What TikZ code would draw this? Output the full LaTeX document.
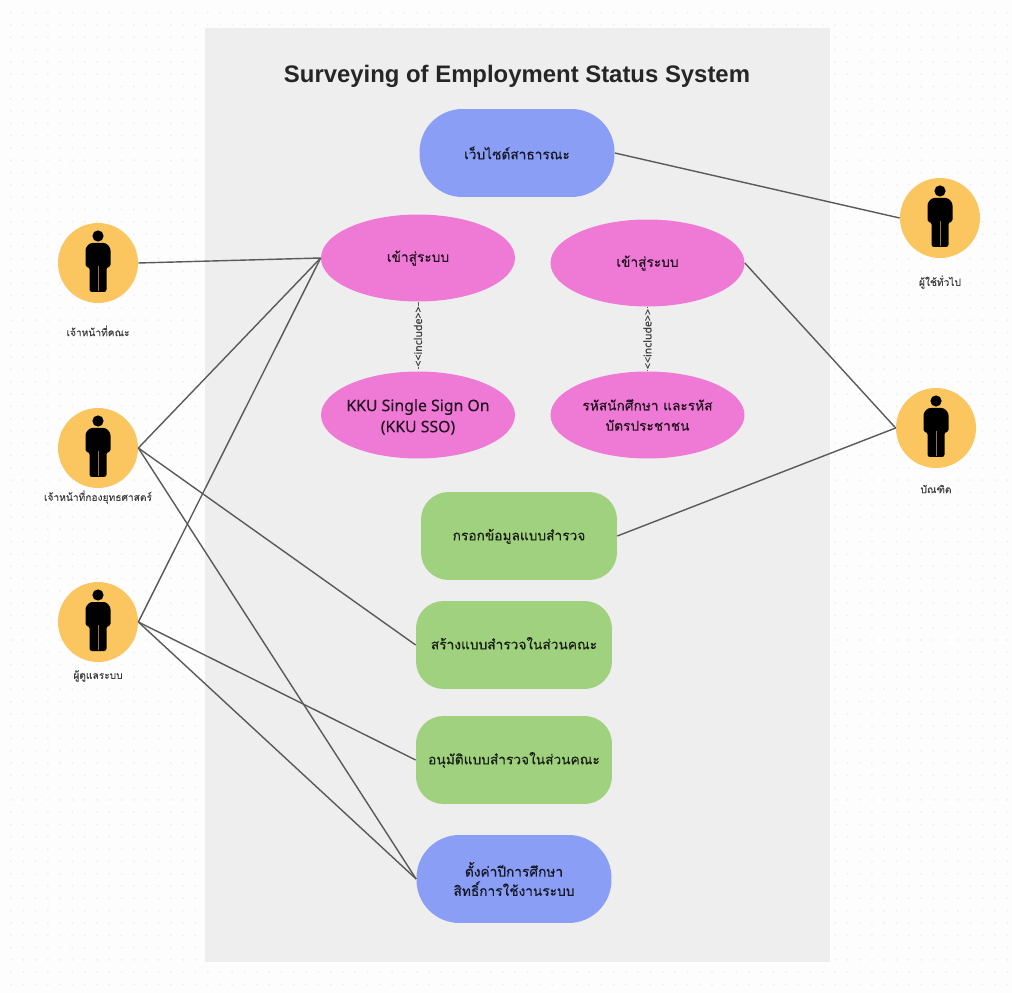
\documentclass[tikz,border=0pt]{standalone}
\usepackage{fontspec}
\newfontfamily\titlefont{Liberation Sans}
\newfontfamily\latinfont[FakeBold=0.3]{Noto Sans}
\newfontfamily\thaifont[Script=Thai,FakeBold=0.3]{Loma}
\usetikzlibrary{shapes.geometric}
\definecolor{canvaswhite}{HTML}{FDFDFD}
\definecolor{panelgray}{HTML}{EEEEEE}
\definecolor{dotgray}{HTML}{F1F1F1}
\definecolor{linegray}{HTML}{5A5A5A}
\definecolor{actoryellow}{HTML}{FBC55F}
\definecolor{usepink}{HTML}{EF7AD6}
\definecolor{useblue}{HTML}{8A9EF5}
\definecolor{usegreen}{HTML}{A0D17E}
\tikzset{
  link/.style={draw=linegray,line width=0.8pt},
  incl/.style={draw=linegray,densely dashed,line width=0.4pt},
  incltext/.style={font=\latinfont\fontsize{6}{6}\selectfont,text=black!75,rotate=90,fill=panelgray,inner sep=0.5pt},
  actor/.style={circle,fill=actoryellow,minimum size=1.6cm,inner sep=0pt},
  actorname/.style={font=\thaifont\fontsize{5.8}{7}\selectfont,text=black!75},
  oval/.style={ellipse,fill=usepink,text=black!85!usepink,minimum width=3.88cm,minimum height=1.74cm,inner sep=-8pt,align=center,font=\thaifont\fontsize{7.8}{11.5}\selectfont},
  pill/.style={rectangle,rounded corners=0.86cm,fill=useblue,text=black!85!useblue,minimum width=3.9cm,minimum height=1.76cm,inner sep=0pt,align=center,font=\thaifont\fontsize{7.8}{11}\selectfont},
  greenbox/.style={rectangle,rounded corners=0.55cm,fill=usegreen,text=black!85!usegreen,minimum width=3.92cm,minimum height=1.76cm,inner sep=0pt,align=center,text height=6.5pt,text depth=1.5pt,font=\thaifont\fontsize{7.8}{11}\selectfont},
  personfig/.pic={
    \fill (0,-27) circle (5.6);
    \fill[rounded corners=0.05cm] (-12.5,4) -- (-12.5,-15) -- (-8,-20) -- (8,-20) -- (12.5,-15) -- (12.5,4) -- (8.5,4) -- (8.5,29) -- (-8.5,29) -- (-8.5,4) -- cycle;
    \draw[actoryellow!60!black,line width=0.3pt] (0,3) -- (0,28);
  }
}
\begin{document}
\begin{tikzpicture}[x=0.02cm,y=-0.02cm]
\useasboundingbox (0,0) rectangle (1012,993);
\fill[canvaswhite] (0,0) rectangle (1012,993);
% dotted canvas
\foreach \x in {0,...,81}
  \foreach \y in {0,...,79}
    \fill[dotgray] (10.9+12.3*\x,12.7+12.3*\y) circle (1.2);
\fill[panelgray] (205,28) rectangle (830,962);

\node[font=\titlefont\bfseries\fontsize{13.6}{16}\selectfont,text=black!85] (title) at (517,76) {Surveying of Employment Status System};

% use cases
\node[pill] (web) at (517,153) {เว็บไซต์สาธารณะ};
\node[oval] (loginstaff) at (418,258) {เข้าสู่ระบบ};
\node[oval] (logingrad) at (647.5,263) {เข้าสู่ระบบ};
\node[oval,font=\latinfont\fontsize{9}{12}\selectfont] (sso) at (418,415) {\rule{0pt}{9pt}KKU Single Sign On\\(KKU SSO)};
\node[oval] (studentid) at (647.5,415) {รหัสนักศึกษา และรหัส\\บัตรประชาชน};
\node[greenbox] (fillin) at (519,536) {กรอกข้อมูลแบบสำรวจ};
\node[greenbox] (create) at (514,645) {สร้างแบบสำรวจในส่วนคณะ};
\node[greenbox] (approve) at (514,760) {อนุมัติแบบสำรวจในส่วนคณะ};
\node[pill] (settings) at (514,879) {ตั้งค่าปีการศึกษา\\สิทธิ์การใช้งานระบบ};

% actors
\node[actor] (faculty) at (98,263) {};
\node[actor] (strategy) at (98,448) {};
\node[actor] (admin) at (98,622) {};
\node[actor] (general) at (940,218) {};
\node[actor] (graduate) at (936,428) {};
\foreach \a/\b in {98/263,98/448,98/622,940/218,936/428}
  \pic at (\a,\b) {personfig};
\node[actorname] (facultyname) at (98,331) {เจ้าหน้าที่คณะ};
\node[actorname] (strategyname) at (98,497) {เจ้าหน้าที่กองยุทธศาสตร์};
\node[actorname] (adminname) at (98,676) {ผู้ดูแลระบบ};
\node[actorname] (generalname) at (940,282) {ผู้ใช้ทั่วไป};
\node[actorname] (graduatename) at (936,489) {บัณฑิต};

% connectors
\draw[link] (faculty.east) -- (loginstaff.west);
\draw[link] (strategy.east) -- (loginstaff.west);
\draw[link] (admin.east) -- (loginstaff.west);
\draw[link] (strategy.east) -- (create.west);
\draw[link] (strategy.east) -- (settings.west);
\draw[link] (admin.east) -- (approve.west);
\draw[link] (admin.east) -- (settings.west);
\draw[link] (web.east) -- (general.west);
\draw[link] (logingrad.east) -- (graduate.west);
\draw[link] (fillin.east) -- (graduate.west);
\draw[incl] (loginstaff.south) -- node[incltext] {<{}<include>{}>} (sso.north);
\draw[incl] (logingrad.south) -- node[incltext] {<{}<include>{}>} (studentid.north);
\end{tikzpicture}
\end{document}
